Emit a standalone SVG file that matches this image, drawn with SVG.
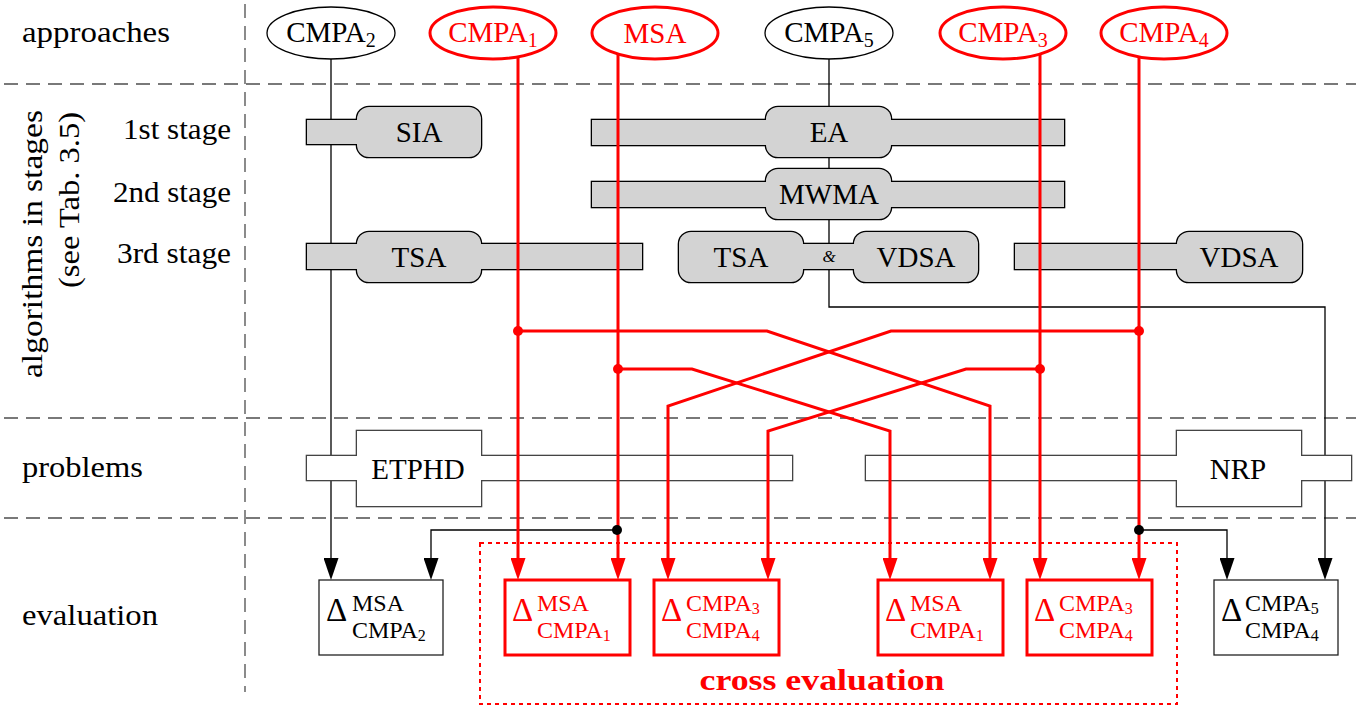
<svg xmlns="http://www.w3.org/2000/svg" xmlns:xlink="http://www.w3.org/1999/xlink" width="1356" height="708" viewBox="0 0 1356 708" font-family="'Liberation Serif', 'DejaVu Serif', serif">
<style>
  text { font-family: "Liberation Serif", "DejaVu Serif", serif; fill: #000; }
  .lbl { font-size: 29px; }
  .small { font-size: 17px; }
  .red { fill: #ff0000; }
  .grid { stroke: #4d4d4d; stroke-width: 1.3; stroke-dasharray: 14 8; fill: none; }
  .wire { stroke: #000; stroke-width: 1.3; fill: none; }
  .rwire { stroke: #ff0000; stroke-width: 3; fill: none; }
  .halo-stage { fill: #000; stroke: #000; stroke-width: 2.6; }
  .body-stage { fill: #d3d3d3; stroke: none; }
  .halo-prob { fill: #444; stroke: #444; stroke-width: 2.6; }
  .body-prob { fill: #fff; stroke: none; }
  .app { fill: #fff; stroke: #000; stroke-width: 1.3; }
  .app-r { fill: #fff; stroke: #ff0000; stroke-width: 3; }
  .ev { fill: #fff; stroke: #222; stroke-width: 1.3; }
  .ev-r { fill: #fff; stroke: #ff0000; stroke-width: 3; }
  .dot { fill: #000; }
  .rdot { fill: #ff0000; }
  .big { font-size: 33px; }
  .scr { font-size: 24px; }
  .sub { font-size: 16px; }
  .esub { font-size: 20px; }
</style>
<defs>
  <marker id="ah" markerUnits="userSpaceOnUse" markerWidth="22" markerHeight="15" viewBox="0 0 22 15" refX="0" refY="7.5" orient="auto">
    <path d="M0,0 L22,7.5 L0,15 z" fill="#000"/>
  </marker>
  <marker id="ah-r" markerUnits="userSpaceOnUse" markerWidth="22" markerHeight="15" viewBox="0 0 22 15" refX="0" refY="7.5" orient="auto">
    <path d="M0,0 L22,7.5 L0,15 z" fill="#ff0000"/>
  </marker>
  <!-- stage node outlines (bar + rounded box) -->
  <g id="s-sia"><rect x="307" y="120" width="70" height="24"/><rect x="357" y="107" width="124" height="50" rx="12"/></g>
  <g id="s-ea"><rect x="592" y="120" width="472" height="25"/><rect x="766" y="107" width="125" height="50" rx="12"/></g>
  <g id="s-mwma"><rect x="592" y="182" width="472" height="25"/><rect x="766" y="169" width="125" height="50" rx="12"/></g>
  <g id="s-tsa1"><rect x="307" y="244" width="335" height="25"/><rect x="357" y="232" width="124" height="50" rx="12"/></g>
  <g id="s-tsavdsa"><rect x="780" y="244" width="96" height="25"/><rect x="679" y="232" width="124" height="50" rx="12"/><rect x="854" y="232" width="124" height="50" rx="12"/></g>
  <g id="s-vdsa"><rect x="1015" y="244" width="180" height="25"/><rect x="1177" y="232" width="125" height="50" rx="12"/></g>
  <!-- problem node outlines (bar + box) -->
  <g id="s-etphd"><rect x="307" y="456" width="485" height="24"/><rect x="357" y="431" width="124" height="75"/></g>
  <g id="s-nrp"><rect x="866" y="456" width="485" height="24"/><rect x="1177" y="431" width="124" height="75"/></g>
</defs>

<rect x="0" y="0" width="1356" height="708" fill="#fff"/>

<!-- row separators -->
<g id="grid">
  <path class="grid" d="M245,4 V692"/>
  <path class="grid" d="M4,84 H1356"/>
  <path class="grid" d="M4,418 H1356"/>
  <path class="grid" d="M4,518 H1356"/>
</g>

<!-- row labels -->
<g id="labels">
  <text class="lbl" x="22" y="42" textLength="148" lengthAdjust="spacingAndGlyphs">approaches</text>
  <text class="lbl" transform="translate(42,110) rotate(-90)" text-anchor="end" textLength="268" lengthAdjust="spacingAndGlyphs">algorithms in stages</text>
  <text class="lbl" transform="translate(79,112) rotate(-90)" text-anchor="end" textLength="176" lengthAdjust="spacingAndGlyphs">(see Tab. 3.5)</text>
  <text class="lbl" x="231" y="139" text-anchor="end" textLength="108" lengthAdjust="spacingAndGlyphs">1st stage</text>
  <text class="lbl" x="231" y="202" text-anchor="end" textLength="118" lengthAdjust="spacingAndGlyphs">2nd stage</text>
  <text class="lbl" x="231" y="263" text-anchor="end" textLength="114" lengthAdjust="spacingAndGlyphs">3rd stage</text>
  <text class="lbl" x="22" y="477" textLength="121" lengthAdjust="spacingAndGlyphs">problems</text>
  <text class="lbl" x="22" y="625" textLength="136" lengthAdjust="spacingAndGlyphs">evaluation</text>
</g>

<!-- black connectors (run behind the nodes) -->
<g id="connectors-black">
  <path class="wire" d="M331,59 V558" marker-end="url(#ah)"/>
  <path class="wire" d="M829,59 V307 H1325 V558" marker-end="url(#ah)"/>
  <path class="wire" d="M617,530 H431 V558" marker-end="url(#ah)"/>
  <path class="wire" d="M1139,530 H1227 V558" marker-end="url(#ah)"/>
</g>

<!-- algorithm stages -->
<g id="node-sia">
  <use xlink:href="#s-sia" class="halo-stage"/><use xlink:href="#s-sia" class="body-stage"/>
  <text class="lbl" x="419" y="142" text-anchor="middle">SIA</text>
</g>
<g id="node-ea">
  <use xlink:href="#s-ea" class="halo-stage"/><use xlink:href="#s-ea" class="body-stage"/>
  <text class="lbl" x="829" y="142" text-anchor="middle">EA</text>
</g>
<g id="node-mwma">
  <use xlink:href="#s-mwma" class="halo-stage"/><use xlink:href="#s-mwma" class="body-stage"/>
  <text class="lbl" x="829" y="204" text-anchor="middle">MWMA</text>
</g>
<g id="node-tsa">
  <use xlink:href="#s-tsa1" class="halo-stage"/><use xlink:href="#s-tsa1" class="body-stage"/>
  <text class="lbl" x="419" y="267" text-anchor="middle">TSA</text>
</g>
<g id="node-tsa-vdsa">
  <use xlink:href="#s-tsavdsa" class="halo-stage"/><use xlink:href="#s-tsavdsa" class="body-stage"/>
  <text class="lbl" x="741" y="267" text-anchor="middle">TSA</text>
  <text class="small" x="829" y="262" text-anchor="middle" font-style="italic">&amp;</text>
  <text class="lbl" x="916" y="267" text-anchor="middle">VDSA</text>
</g>
<g id="node-vdsa">
  <use xlink:href="#s-vdsa" class="halo-stage"/><use xlink:href="#s-vdsa" class="body-stage"/>
  <text class="lbl" x="1239" y="267" text-anchor="middle">VDSA</text>
</g>

<!-- problems -->
<g id="node-etphd">
  <use xlink:href="#s-etphd" class="halo-prob"/><use xlink:href="#s-etphd" class="body-prob"/>
  <text class="lbl" x="418" y="479" text-anchor="middle">ETPHD</text>
</g>
<g id="node-nrp">
  <use xlink:href="#s-nrp" class="halo-prob"/><use xlink:href="#s-nrp" class="body-prob"/>
  <text class="lbl" x="1238" y="479" text-anchor="middle">NRP</text>
</g>

<!-- cross evaluation frame -->
<g id="cross-evaluation">
  <rect x="480" y="543" width="697" height="161" fill="none" stroke="#ff0000" stroke-width="2" stroke-dasharray="4 4"/>
  <text x="822" y="690" text-anchor="middle" font-size="30" font-weight="bold" class="red" textLength="245" lengthAdjust="spacingAndGlyphs">cross evaluation</text>
</g>

<!-- red connectors -->
<g id="connectors-red">
  <path class="rwire" d="M518,57 V558" marker-end="url(#ah-r)"/>
  <path class="rwire" d="M618,54 V558" marker-end="url(#ah-r)"/>
  <path class="rwire" d="M1040,54 V558" marker-end="url(#ah-r)"/>
  <path class="rwire" d="M1139,57 V558" marker-end="url(#ah-r)"/>
  <path class="rwire" d="M518,331 H767 L990,406 V558" marker-end="url(#ah-r)"/>
  <path class="rwire" d="M1139,331 H891 L668,406 V558" marker-end="url(#ah-r)"/>
  <path class="rwire" d="M618,369 H692 L890,431 V558" marker-end="url(#ah-r)"/>
  <path class="rwire" d="M1040,369 H966 L768,431 V558" marker-end="url(#ah-r)"/>
  <circle class="rdot" cx="518" cy="331" r="5"/>
  <circle class="rdot" cx="1139" cy="331" r="5"/>
  <circle class="rdot" cx="618" cy="369" r="5"/>
  <circle class="rdot" cx="1040" cy="369" r="5"/>
  <circle class="dot" cx="617" cy="530" r="5"/>
  <circle class="dot" cx="1139" cy="530" r="5"/>
</g>

<!-- approaches -->
<g id="node-cmpa2">
  <ellipse class="app" cx="331" cy="33" rx="64" ry="26"/>
  <text class="lbl" x="331" y="42" text-anchor="middle">CMPA<tspan class="esub" dy="5">2</tspan></text>
</g>
<g id="node-cmpa1">
  <ellipse class="app-r" cx="493" cy="33" rx="63" ry="26"/>
  <text class="lbl red" x="493" y="42" text-anchor="middle">CMPA<tspan class="esub" dy="5">1</tspan></text>
</g>
<g id="node-msa">
  <ellipse class="app-r" cx="655" cy="33" rx="63" ry="26"/>
  <text class="lbl red" x="655" y="43" text-anchor="middle">MSA</text>
</g>
<g id="node-cmpa5">
  <ellipse class="app" cx="829" cy="33" rx="64" ry="26"/>
  <text class="lbl" x="829" y="42" text-anchor="middle">CMPA<tspan class="esub" dy="5">5</tspan></text>
</g>
<g id="node-cmpa3">
  <ellipse class="app-r" cx="1003" cy="33" rx="63" ry="26"/>
  <text class="lbl red" x="1003" y="42" text-anchor="middle">CMPA<tspan class="esub" dy="5">3</tspan></text>
</g>
<g id="node-cmpa4">
  <ellipse class="app-r" cx="1164" cy="33" rx="63" ry="26"/>
  <text class="lbl red" x="1164" y="42" text-anchor="middle">CMPA<tspan class="esub" dy="5">4</tspan></text>
</g>

<!-- evaluations -->
<g id="eval-msa-cmpa2">
  <rect class="ev" x="319" y="580" width="124" height="75"/>
  <text class="big" x="326" y="621">Δ</text>
  <text class="scr" x="352" y="611">MSA</text>
  <text class="scr" x="352" y="638">CMPA<tspan class="sub" dy="3">2</tspan></text>
</g>
<g id="eval-msa-cmpa1-a">
  <rect class="ev-r" x="505" y="580" width="125" height="75"/>
  <text class="big red" x="512" y="621">Δ</text>
  <text class="scr red" x="537" y="611">MSA</text>
  <text class="scr red" x="537" y="638">CMPA<tspan class="sub" dy="3">1</tspan></text>
</g>
<g id="eval-cmpa3-cmpa4-a">
  <rect class="ev-r" x="654" y="580" width="125" height="75"/>
  <text class="big red" x="661" y="621">Δ</text>
  <text class="scr red" x="686" y="611">CMPA<tspan class="sub" dy="3">3</tspan></text>
  <text class="scr red" x="686" y="638">CMPA<tspan class="sub" dy="3">4</tspan></text>
</g>
<g id="eval-msa-cmpa1-b">
  <rect class="ev-r" x="878" y="580" width="125" height="75"/>
  <text class="big red" x="885" y="621">Δ</text>
  <text class="scr red" x="910" y="611">MSA</text>
  <text class="scr red" x="910" y="638">CMPA<tspan class="sub" dy="3">1</tspan></text>
</g>
<g id="eval-cmpa3-cmpa4-b">
  <rect class="ev-r" x="1027" y="580" width="125" height="75"/>
  <text class="big red" x="1034" y="621">Δ</text>
  <text class="scr red" x="1059" y="611">CMPA<tspan class="sub" dy="3">3</tspan></text>
  <text class="scr red" x="1059" y="638">CMPA<tspan class="sub" dy="3">4</tspan></text>
</g>
<g id="eval-cmpa5-cmpa4">
  <rect class="ev" x="1214" y="580" width="124" height="75"/>
  <text class="big" x="1221" y="621">Δ</text>
  <text class="scr" x="1245" y="611">CMPA<tspan class="sub" dy="3">5</tspan></text>
  <text class="scr" x="1245" y="638">CMPA<tspan class="sub" dy="3">4</tspan></text>
</g>
</svg>
